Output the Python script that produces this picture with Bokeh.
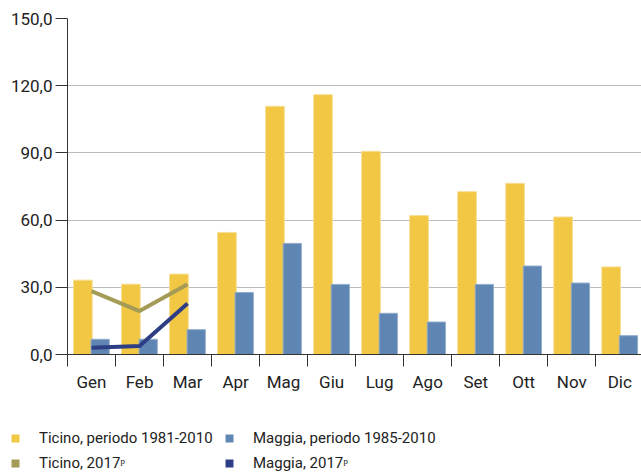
from bokeh.plotting import figure
from bokeh.layouts import column
from bokeh.models import (Range1d, FixedTicker, Legend, LegendItem, ColumnDataSource)
from bokeh.embed import file_html
from bokeh.resources import INLINE
from bokeh.transform import dodge

months = ["Gen", "Feb", "Mar", "Apr", "Mag", "Giu", "Lug", "Ago", "Set", "Ott", "Nov", "Dic"]
ticino_1981_2010 = [33.2, 31.4, 35.9, 54.5, 110.8, 116.0, 90.7, 62.0, 72.7, 76.4, 61.4, 39.1]
maggia_1985_2010 = [6.8, 6.8, 11.1, 27.7, 49.6, 31.3, 18.4, 14.5, 31.3, 39.5, 31.9, 8.4]
months_2017 = ["Gen", "Feb", "Mar"]
ticino_2017 = [28.3, 19.4, 31.4]
maggia_2017 = [3.0, 3.8, 22.8]
y_ticks = [0, 30, 60, 90, 120, 150]
y_tick_labels = ["0,0", "30,0", "60,0", "90,0", "120,0", "150,0"]
legend_labels = ["Ticino, periodo 1981-2010", "Maggia, periodo 1985-2010",
                 "Ticino, 2017\u1d56", "Maggia, 2017\u1d56"]

FONT = "Roboto"
YELLOW = "#F2C744"
BLUE = "#5F86B2"
OLIVE = "#A39B56"
NAVY = "#2E3E85"
TXT = "#222222"

centers = [i + 0.5 for i in range(len(months))]
bars = ColumnDataSource(dict(x=centers, ticino=ticino_1981_2010, maggia=maggia_1985_2010))
idx17 = [months.index(m) + 0.5 for m in months_2017]
lines = ColumnDataSource(dict(x=idx17, ticino=ticino_2017, maggia=maggia_2017))

W = 641
H_MAIN = 408
H_LEG = 64
LEFT = 67
p = figure(width=W, height=H_MAIN, output_backend="svg", toolbar_location=None,
           x_range=Range1d(0, (W - LEFT - 0.3) / 48.0), y_range=Range1d(0, 150),
           min_border_left=LEFT, min_border_right=0, min_border_top=18,
           min_border_bottom=H_MAIN - 18 - 336)
p.frame_align = False
p.outline_line_color = None
p.background_fill_color = "white"
p.border_fill_color = "white"

p.vbar(x=dodge("x", -0.18), top="ticino", width=0.39, source=bars,
       fill_color=YELLOW, line_color="#F7DE95", line_width=1)
p.vbar(x=dodge("x", 0.18), top="maggia", width=0.38, source=bars,
       fill_color=BLUE, line_color="#93ACCB", line_width=1)
p.line("x", "ticino", source=lines, line_color=OLIVE, line_width=4)
p.line("x", "maggia", source=lines, line_color=NAVY, line_width=4)

# axes
xa = p.xaxis[0]
xa.ticker = FixedTicker(ticks=centers, minor_ticks=list(range(len(months) + 1)))
xa.major_label_overrides = {c: m for c, m in zip(centers, months)}
xa.major_tick_line_color = None
xa.major_tick_out = 12
xa.major_tick_in = 0
xa.minor_tick_out = 12
xa.minor_tick_in = 0
xa.minor_tick_line_color = "#333333"
xa.axis_line_color = "#333333"
xa.major_label_standoff = 5
xa.major_label_text_font = FONT
xa.major_label_text_font_size = "17px"
xa.major_label_text_color = TXT

ya = p.yaxis[0]
ya.ticker = FixedTicker(ticks=y_ticks)
ya.major_label_overrides = {t: l for t, l in zip(y_ticks, y_tick_labels)}
ya.major_tick_out = 12
ya.major_tick_in = 0
ya.minor_tick_line_color = None
ya.major_tick_line_color = "#333333"
ya.axis_line_color = "#333333"
ya.major_label_standoff = 3
ya.major_label_text_font = FONT
ya.major_label_text_font_size = "17px"
ya.major_label_text_color = TXT

p.xgrid.grid_line_color = None
p.ygrid.grid_line_color = "#BBBBBB"
p.ygrid.grid_line_width = 1.2

# legend in its own strip below the chart (swatch renderers lie outside its view)
lf = figure(width=W, height=H_LEG, output_backend="svg", toolbar_location=None,
            x_axis_location=None, y_axis_location=None,
            x_range=Range1d(0, 1), y_range=Range1d(1000, 1001),
            min_border_left=0, min_border_right=0, min_border_top=0, min_border_bottom=0)
lf.frame_align = False
lf.grid.visible = False
lf.outline_line_color = None
lf.background_fill_color = "white"
lf.border_fill_color = "white"
proxies = [
    lf.vbar(x="x", top="ticino", width=0.1, source=bars, fill_color=YELLOW, line_color=None),
    lf.vbar(x="x", top="maggia", width=0.1, source=bars, fill_color=BLUE, line_color=None),
    lf.vbar(x="x", top="ticino", width=0.1, source=lines, fill_color=OLIVE, line_color=None),
    lf.vbar(x="x", top="maggia", width=0.1, source=lines, fill_color=NAVY, line_color=None),
]

legend = Legend(items=[LegendItem(label=l, renderers=[r]) for l, r in zip(legend_labels, proxies)],
                location=(10, -1.5), orientation="horizontal", ncols=2)
legend.glyph_width = 10
legend.glyph_height = 10
legend.label_standoff = 19
legend.label_width = 181
legend.spacing = 4
legend.padding = 0
legend.margin = 0
legend.label_height = 21
legend.border_line_color = None
legend.background_fill_alpha = 0
legend.label_text_font = FONT
legend.label_text_font_size = "15px"
legend.label_text_color = TXT
lf.add_layout(legend, "center")

layout = column(p, lf, spacing=0)
open("out.html", "w").write(file_html(layout, INLINE))
